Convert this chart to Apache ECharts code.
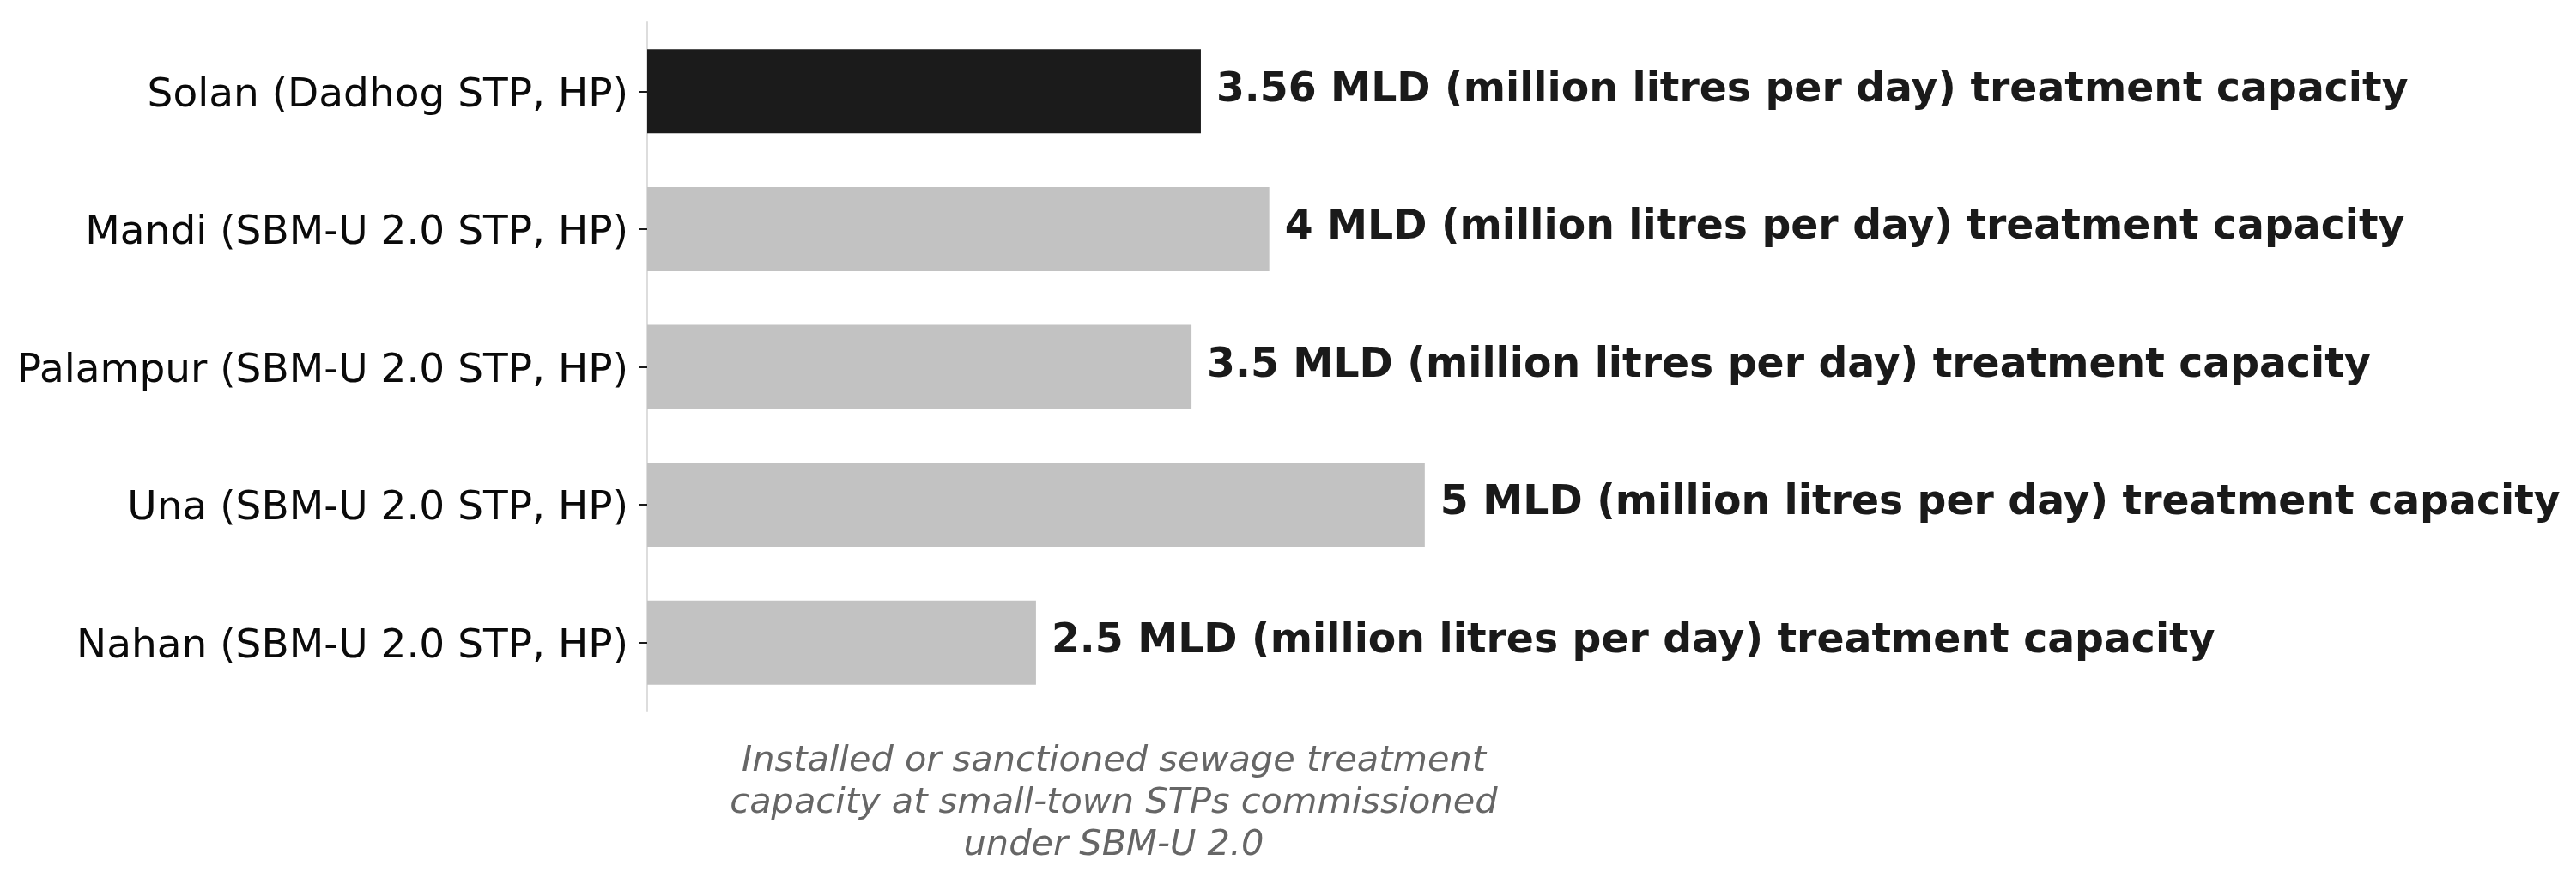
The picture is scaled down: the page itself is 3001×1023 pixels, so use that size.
<!DOCTYPE html>
<html>
<head>
<meta http-equiv="Content-Type" content="text/html; charset=UTF-8">
<title>STP capacity</title>
<script src="https://cdn.jsdelivr.net/npm/echarts@6/dist/echarts.min.js"></script>
<style>
	html, body { margin: 0; padding: 0; background: #fff; }
	#chart { width: 3001px; height: 1023px; }
</style>
</head>
<body>
	<div id="chart"></div>
	<script type="text/javascript">
		// data
		var towns = [ 'Solan (Dadhog STP, HP)', 'Mandi (SBM-U 2.0 STP, HP)',
				'Palampur (SBM-U 2.0 STP, HP)', 'Una (SBM-U 2.0 STP, HP)',
				'Nahan (SBM-U 2.0 STP, HP)' ];
		var capacityMLD = [ 3.56, 4, 3.5, 5, 2.5 ];
		var highlighted = [ true, false, false, false, false ];
		var axisTitle = 'Installed or sanctioned sewage treatment\ncapacity at small-town STPs commissioned\nunder SBM-U 2.0';

		var font = 'DejaVu Sans';
		var chart = echarts.init(document.getElementById('chart'));
		chart.setOption({
			animation : false,
			grid : {
				left : 754,
				right : 1160,
				top : 26,
				bottom : 194
			},
			xAxis : {
				type : 'value',
				min : 0,
				max : 6,
				axisLine : { show : false },
				axisTick : { show : false },
				axisLabel : { show : false },
				splitLine : { show : false },
				name : axisTitle,
				nameLocation : 'middle',
				nameGap : 34,
				nameTextStyle : {
					fontFamily : font,
					fontStyle : 'italic',
					fontSize : 41.5,
					lineHeight : 49,
					color : '#666666',
					verticalAlign : 'top',
					align : 'center'
				}
			},
			yAxis : {
				type : 'category',
				inverse : true,
				data : towns,
				axisLine : {
					show : true,
					lineStyle : { color : '#dddddd', width : 2 }
				},
				axisTick : {
					show : true,
					alignWithLabel : true,
					length : 9,
					lineStyle : { color : '#1a1a1a', width : 2 }
				},
				axisLabel : {
					fontFamily : font,
					fontSize : 47,
					color : '#0a0a0a',
					margin : 22,
					verticalAlign : 'top',
					lineHeight : 10
				},
				splitLine : { show : false }
			},
			series : [ {
				type : 'bar',
				barWidth : '61%',
				data : capacityMLD.map(function(v, i) {
					return {
						value : v,
						itemStyle : { color : highlighted[i] ? '#1b1b1b' : '#c2c2c2' }
					};
				}),
				label : {
					show : true,
					position : 'right',
					distance : 18,
					offset : [ 0, -1 ],
					fontFamily : font,
					fontWeight : 'bold',
					fontSize : 47.3,
					color : '#1a1a1a',
					formatter : function(p) {
						return p.value + ' MLD (million litres per day) treatment capacity';
					}
				}
			} ]
		});
	</script>
</body>
</html>
